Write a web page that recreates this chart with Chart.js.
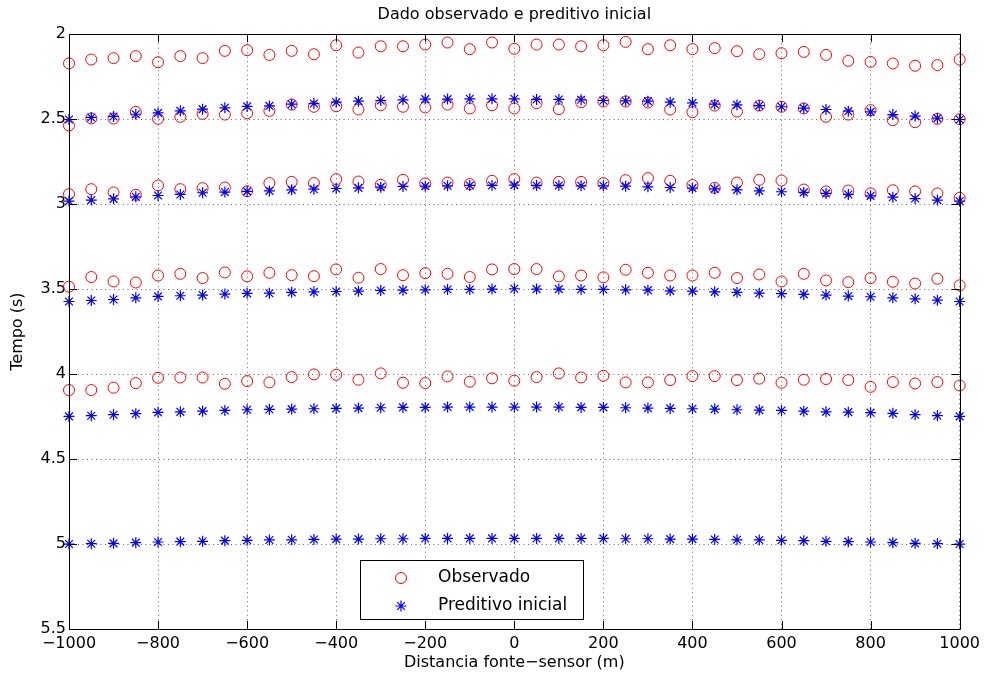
<!DOCTYPE html>
<html>
<head>
<meta charset="utf-8">
<script src="https://cdn.jsdelivr.net/npm/chart.js@4"></script>
<style>
  html, body { margin: 0; padding: 0; background: #fff; }
  #wrap { width: 985px; height: 677px; }
</style>
</head>
<body>
<div id="wrap"><canvas id="myChart" width="985" height="677"></canvas></div>
<script>
// offsets (m)
var distancia = [-1000, -950, -900, -850, -800, -750, -700, -650, -600, -550, -500, -450, -400, -350, -300, -250, -200, -150, -100, -50,
  0, 50, 100, 150, 200, 250, 300, 350, 400, 450, 500, 550, 600, 650, 700, 750, 800, 850, 900, 950, 1000];

// observed travel times (s), one array per reflector
var obs1 = [2.172, 2.149, 2.141, 2.129, 2.165, 2.129, 2.141, 2.098, 2.094, 2.122, 2.098, 2.118, 2.065, 2.108, 2.071, 2.071, 2.061, 2.049, 2.088, 2.049,
  2.086, 2.061, 2.061, 2.071, 2.065, 2.045, 2.088, 2.065, 2.088, 2.082, 2.100, 2.118, 2.112, 2.104, 2.122, 2.157, 2.163, 2.172, 2.186, 2.182, 2.149];
var obs2 = [2.537, 2.496, 2.496, 2.457, 2.498, 2.486, 2.469, 2.473, 2.465, 2.451, 2.414, 2.427, 2.424, 2.443, 2.418, 2.427, 2.431, 2.414, 2.437, 2.418,
  2.437, 2.406, 2.441, 2.400, 2.396, 2.396, 2.402, 2.443, 2.459, 2.420, 2.455, 2.420, 2.427, 2.437, 2.486, 2.473, 2.447, 2.506, 2.518, 2.498, 2.500];
var obs3 = [2.941, 2.912, 2.931, 2.945, 2.890, 2.912, 2.906, 2.902, 2.924, 2.876, 2.869, 2.876, 2.853, 2.867, 2.886, 2.857, 2.878, 2.873, 2.882, 2.863,
  2.853, 2.873, 2.869, 2.869, 2.876, 2.859, 2.847, 2.863, 2.888, 2.904, 2.873, 2.857, 2.861, 2.914, 2.925, 2.920, 2.937, 2.918, 2.925, 2.937, 2.963];
var obs4 = [3.486, 3.429, 3.455, 3.461, 3.420, 3.410, 3.435, 3.402, 3.425, 3.404, 3.418, 3.424, 3.384, 3.433, 3.382, 3.418, 3.406, 3.410, 3.429, 3.384,
  3.382, 3.382, 3.425, 3.420, 3.431, 3.386, 3.404, 3.420, 3.420, 3.404, 3.435, 3.414, 3.455, 3.410, 3.449, 3.459, 3.435, 3.457, 3.467, 3.439, 3.478];
var obs5 = [4.094, 4.094, 4.080, 4.053, 4.022, 4.020, 4.020, 4.057, 4.041, 4.049, 4.018, 4.002, 4.004, 4.033, 3.996, 4.051, 4.053, 4.014, 4.045, 4.025,
  4.039, 4.018, 3.996, 4.020, 4.010, 4.049, 4.049, 4.035, 4.012, 4.012, 4.035, 4.027, 4.051, 4.033, 4.029, 4.035, 4.075, 4.047, 4.055, 4.047, 4.067];

// predicted travel times from the initial model
var pred1 = [2.502, 2.490, 2.484, 2.471, 2.463, 2.451, 2.441, 2.433, 2.425, 2.422, 2.412, 2.408, 2.400, 2.394, 2.390, 2.386, 2.382, 2.382, 2.380, 2.380,
  2.380, 2.384, 2.384, 2.386, 2.390, 2.392, 2.394, 2.400, 2.404, 2.412, 2.416, 2.420, 2.427, 2.435, 2.443, 2.453, 2.457, 2.473, 2.482, 2.494, 2.502];
var pred2 = [2.982, 2.976, 2.969, 2.957, 2.949, 2.943, 2.933, 2.929, 2.925, 2.922, 2.916, 2.912, 2.908, 2.904, 2.900, 2.896, 2.894, 2.892, 2.890, 2.890,
  2.888, 2.890, 2.890, 2.892, 2.892, 2.894, 2.898, 2.902, 2.906, 2.910, 2.916, 2.922, 2.927, 2.931, 2.937, 2.943, 2.951, 2.959, 2.967, 2.976, 2.982];
var pred3 = [3.573, 3.567, 3.561, 3.551, 3.543, 3.539, 3.535, 3.529, 3.525, 3.524, 3.519, 3.516, 3.514, 3.512, 3.508, 3.506, 3.504, 3.502, 3.502, 3.500,
  3.498, 3.500, 3.500, 3.502, 3.502, 3.504, 3.506, 3.510, 3.512, 3.516, 3.519, 3.524, 3.527, 3.531, 3.535, 3.541, 3.545, 3.551, 3.557, 3.565, 3.573];
var pred4 = [4.249, 4.245, 4.239, 4.233, 4.225, 4.222, 4.218, 4.214, 4.210, 4.208, 4.206, 4.204, 4.202, 4.200, 4.198, 4.196, 4.196, 4.194, 4.194, 4.194,
  4.194, 4.194, 4.194, 4.196, 4.196, 4.198, 4.200, 4.202, 4.204, 4.206, 4.210, 4.212, 4.214, 4.218, 4.222, 4.224, 4.227, 4.231, 4.239, 4.245, 4.249];
var pred5 = [5.000, 4.998, 4.996, 4.992, 4.988, 4.986, 4.984, 4.980, 4.978, 4.976, 4.975, 4.973, 4.971, 4.971, 4.969, 4.969, 4.967, 4.967, 4.967, 4.967,
  4.967, 4.967, 4.967, 4.967, 4.967, 4.969, 4.969, 4.971, 4.971, 4.973, 4.975, 4.976, 4.978, 4.980, 4.984, 4.986, 4.988, 4.992, 4.996, 4.998, 5.000];

var xTicks = [-1000, -800, -600, -400, -200, 0, 200, 400, 600, 800, 1000];
var yTicks = [2, 2.5, 3, 3.5, 4, 4.5, 5, 5.5];

var observado = [obs1, obs2, obs3, obs4, obs5];
var preditivo = [pred1, pred2, pred3, pred4, pred5];

function toPoints(layers) {
    var pts = [];
    for (var j = 0; j < layers.length; j++) {
        for (var i = 0; i < distancia.length; i++) {
            pts.push({ x: distancia[i], y: layers[j][i] });
        }
    }
    return pts;
}

var FONT = 'DejaVu Sans';

// box round the axes plus inward ticks on all four sides
var axesBox = {
    id: 'axesBox',
    afterDraw: function (chart) {
        var ctx = chart.ctx, a = chart.chartArea;
        var xs = chart.scales.x, ys = chart.scales.y;
        var tl = 8;
        ctx.save();
        ctx.strokeStyle = '#000';
        ctx.lineWidth = 1;
        ctx.beginPath();
        ctx.rect(Math.round(a.left) + 0.5, Math.round(a.top) + 0.5, Math.round(a.right - a.left), Math.round(a.bottom - a.top));
        xTicks.forEach(function (v) {
            var px = Math.round(xs.getPixelForValue(v)) + 0.5;
            ctx.moveTo(px, a.bottom); ctx.lineTo(px, a.bottom - tl);
            ctx.moveTo(px, a.top); ctx.lineTo(px, a.top + tl);
        });
        yTicks.forEach(function (v) {
            var py = Math.round(ys.getPixelForValue(v)) + 0.5;
            ctx.moveTo(a.left, py); ctx.lineTo(a.left + tl, py);
            ctx.moveTo(a.right, py); ctx.lineTo(a.right - tl, py);
        });
        ctx.stroke();
        ctx.restore();
    }
};

// legend box in the lower middle of the axes
var legendBox = {
    id: 'legendBox',
    afterDraw: function (chart) {
        var ctx = chart.ctx;
        var bx = 360.5, by = 560.5, bw = 223, bh = 59;
        ctx.save();
        ctx.fillStyle = '#fff';
        ctx.fillRect(bx, by, bw, bh);
        ctx.strokeStyle = '#000';
        ctx.lineWidth = 1;
        ctx.strokeRect(bx, by, bw, bh);
        var rows = [578, 606];
        chart.data.datasets.forEach(function (ds, i) {
            ctx.strokeStyle = ds.borderColor;
            ctx.fillStyle = 'rgba(0,0,0,0)';
            ctx.lineWidth = ds.borderWidth;
            Chart.helpers.drawPoint(ctx, { pointStyle: ds.pointStyle, radius: ds.pointRadius, borderWidth: ds.borderWidth, rotation: 0 }, 401, rows[i]);
            ctx.fillStyle = '#000';
            ctx.font = '17px "' + FONT + '"';
            ctx.textBaseline = 'middle';
            ctx.textAlign = 'left';
            ctx.fillText(ds.label, 438, rows[i]);
        });
        ctx.restore();
    }
};

new Chart("myChart", {
    type: 'scatter',
    data: {
        datasets: [{
            label: 'Observado',
            data: toPoints(observado),
            pointStyle: 'circle',
            pointRadius: 5.5,
            borderColor: '#ff0000',
            backgroundColor: 'rgba(0,0,0,0)',
            borderWidth: 1,
            clip: false,
            order: 1
        }, {
            label: 'Preditivo inicial',
            data: toPoints(preditivo),
            pointStyle: 'star',
            pointRadius: 5.5,
            borderColor: '#0000ff',
            backgroundColor: '#0000ff',
            borderWidth: 1.2,
            clip: false,
            order: 0
        }]
    },
    options: {
        responsive: false,
        animation: false,
        events: [],
        layout: { padding: { left: 0, right: 12, top: 0, bottom: 0 } },
        plugins: {
            legend: { display: false },
            tooltip: { enabled: false },
            title: {
                display: true,
                fullSize: false,
                text: 'Dado observado e preditivo inicial',
                color: '#000',
                font: { family: FONT, size: 16, weight: 'normal' },
                padding: { top: 5, bottom: 10 }
            }
        },
        scales: {
            x: {
                type: 'linear',
                min: -1000,
                max: 1000,
                afterFit: function (s) { s.height = 48; },
                afterBuildTicks: function (s) { s.ticks = xTicks.map(function (v) { return { value: v }; }); },
                ticks: {
                    color: '#000',
                    padding: 5,
                    maxRotation: 0,
                    font: { family: FONT, size: 16 },
                    callback: function (v) { return String(v).replace('-', '\u2212'); }
                },
                grid: { color: 'rgba(0,0,0,0.6)', lineWidth: 1, drawTicks: false },
                border: { display: false, dash: [1, 3.5] },
                title: {
                    display: true,
                    text: 'Distancia fonte\u2212sensor (m)',
                    color: '#000',
                    font: { family: FONT, size: 16 },
                    padding: { top: 0, bottom: 5 }
                }
            },
            y: {
                type: 'linear',
                reverse: true,
                min: 2,
                max: 5.5,
                afterFit: function (s) { s.width = 69; },
                afterBuildTicks: function (s) { s.ticks = yTicks.map(function (v) { return { value: v }; }); },
                ticks: {
                    color: '#000',
                    padding: 3,
                    font: { family: FONT, size: 16 },
                    callback: function (v) { return String(v); }
                },
                grid: { color: 'rgba(0,0,0,0.6)', lineWidth: 1, drawTicks: false },
                border: { display: false, dash: [1, 3.5] },
                title: {
                    display: true,
                    text: 'Tempo (s)',
                    color: '#000',
                    font: { family: FONT, size: 16 },
                    padding: { top: 8, bottom: 0 }
                }
            }
        }
    },
    plugins: [axesBox, legendBox]
});
</script>
</body>
</html>
